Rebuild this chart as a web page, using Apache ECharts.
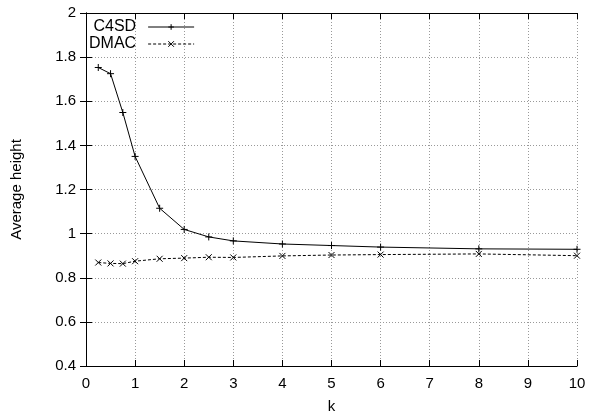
<!DOCTYPE html>
<html>
<head>
<meta charset="utf-8">
<script src="https://cdn.jsdelivr.net/npm/echarts@6/dist/echarts.min.js"></script>
<style>
  html, body { margin: 0; padding: 0; background: #fff; }
  #main { width: 589px; height: 419px; }
</style>
</head>
<body>
<div id="main"></div>
<script>
// data
var kValues = [0.25, 0.5, 0.75, 1, 1.5, 2, 2.5, 3, 4, 5, 6, 8, 10];
var c4sd = [1.753, 1.725, 1.549, 1.35, 1.115, 1.019, 0.985, 0.967, 0.953, 0.946, 0.939, 0.931, 0.929];
var dmac = [0.869, 0.865, 0.864, 0.875, 0.886, 0.889, 0.893, 0.892, 0.899, 0.903, 0.905, 0.908, 0.900];
var seriesNames = ['C4SD', 'DMAC'];

var plusPath = 'path://M0,5L10,5M5,0L5,10';
var crossPath = 'path://M0,0L10,10M10,0L0,10';

function pairs(vals) {
    return kValues.map(function (k, i) { return [k, vals[i]]; });
}

var font = 'Liberation Sans, Arial, sans-serif';
var gridLine = { show: true, lineStyle: { color: '#999', type: [1, 2], width: 1 } };

var option = {
    animation: false,
    textStyle: { fontFamily: font },
    grid: { left: 86, right: 12, top: 13, bottom: 53 },
    legend: {
        orient: 'vertical',
        left: 89,
        top: 19,
        align: 'right',
        itemWidth: 46,
        itemHeight: 7,
        itemGap: 1,
        padding: 0,
        lineStyle: { width: 1 },
        itemStyle: { borderWidth: 1 },
        textStyle: { fontSize: 16, color: '#000', fontFamily: font, padding: [0, 7, 0, 0] },
        data: seriesNames
    },
    xAxis: [{
        type: 'value',
        min: 0, max: 10, interval: 1,
        name: 'k',
        nameLocation: 'middle',
        nameGap: 33,
        nameTextStyle: { fontSize: 15, color: '#000' },
        axisLine: { onZero: false, lineStyle: { color: '#000', width: 1 } },
        axisTick: { inside: true, length: 6, lineStyle: { color: '#000' } },
        axisLabel: { fontSize: 15, color: '#000', margin: 10 },
        splitLine: gridLine
    }, {
        type: 'value',
        position: 'top',
        min: 0, max: 10, interval: 1,
        axisLine: { lineStyle: { color: '#000', width: 1 } },
        axisTick: { inside: true, length: 6, lineStyle: { color: '#000' } },
        axisLabel: { show: false },
        splitLine: { show: false }
    }],
    yAxis: [{
        type: 'value',
        min: 0.4, max: 2, interval: 0.2,
        name: 'Average height',
        nameLocation: 'middle',
        nameGap: 62,
        nameTextStyle: { fontSize: 15, color: '#000' },
        axisLine: { show: true, onZero: false, lineStyle: { color: '#000', width: 1 } },
        axisTick: { show: true, inside: true, length: 6, lineStyle: { color: '#000' } },
        axisLabel: { fontSize: 15, color: '#000', margin: 10 },
        splitLine: gridLine
    }, {
        type: 'value',
        position: 'right',
        min: 0.4, max: 2, interval: 0.2,
        axisLine: { show: true, lineStyle: { color: '#000', width: 1 } },
        axisTick: { show: true, inside: true, length: 6, lineStyle: { color: '#000' } },
        axisLabel: { show: false },
        splitLine: { show: false }
    }],
    series: [
        {
            name: seriesNames[0],
            type: 'line',
            data: pairs(c4sd),
            symbol: plusPath,
            symbolSize: 7,
            color: '#000',
            lineStyle: { color: '#000', width: 1 },
            itemStyle: { color: 'none', borderColor: '#000', borderWidth: 1 }
        },
        {
            name: seriesNames[1],
            type: 'line',
            data: pairs(dmac),
            symbol: crossPath,
            symbolSize: 6,
            color: '#000',
            lineStyle: { color: '#000', width: 1, type: [3, 2] },
            itemStyle: { color: 'none', borderColor: '#000', borderWidth: 1 }
        }
    ]
};

var myChart = echarts.init(document.getElementById('main'));
myChart.setOption(option);
</script>
</body>
</html>
